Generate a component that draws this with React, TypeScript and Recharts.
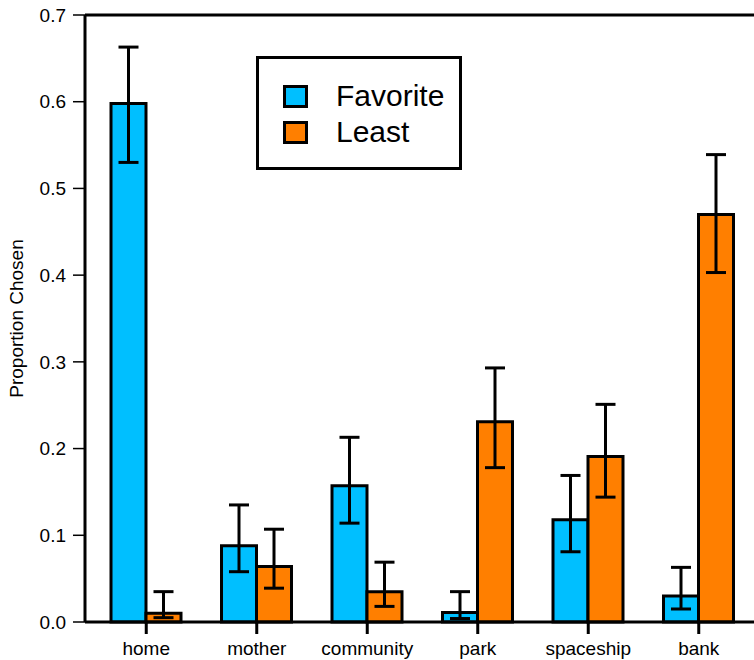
import React from 'react';
import { BarChart, Bar, XAxis, YAxis, ErrorBar, Legend, ReferenceLine } from 'recharts';

const categories = ['home', 'mother', 'community', 'park', 'spaceship', 'bank'];

const favorite = [0.598, 0.088, 0.157, 0.011, 0.118, 0.030];
const favoriteLow = [0.530, 0.058, 0.114, 0.004, 0.081, 0.015];
const favoriteHigh = [0.663, 0.135, 0.213, 0.035, 0.169, 0.063];

const least = [0.010, 0.064, 0.035, 0.231, 0.191, 0.470];
const leastLow = [0.005, 0.039, 0.018, 0.178, 0.144, 0.403];
const leastHigh = [0.035, 0.107, 0.069, 0.293, 0.251, 0.539];

const yTicks = [0, 0.1, 0.2, 0.3, 0.4, 0.5, 0.6, 0.7];

const BLUE = '#00BFFF';
const ORANGE = '#FF7F00';
const FONT = '"Liberation Sans", Arial, Helvetica, sans-serif';

const data = categories.map((cat, i) => ({
    cat,
    favorite: favorite[i],
    favoriteErr: [favorite[i] - favoriteLow[i], favoriteHigh[i] - favorite[i]],
    least: least[i],
    leastErr: [least[i] - leastLow[i], leastHigh[i] - least[i]],
}));

const LegendBox = () => (
    <div style={{
        width: 200, height: 108, border: '3px solid #000', background: '#fff',
        fontFamily: FONT, fontSize: 30, color: '#000', boxSizing: 'content-box',
    }}>
        {[['Favorite', BLUE], ['Least', ORANGE]].map(([name, color], i) => (
            <div key={name} style={{ position: 'absolute', left: 27, top: 25 + i * 36, display: 'flex', alignItems: 'center' }}>
                <span style={{ display: 'inline-block', width: 19, height: 17, border: '3px solid #000', background: color }} />
                <span style={{ marginLeft: 28, lineHeight: '30px' }}>{name}</span>
            </div>
        ))}
    </div>
);

const App: React.FC = () => {
    return (
        <div style={{ position: 'absolute', left: 0, top: 0, width: 754, height: 660, overflow: 'hidden', background: '#fff' }}>
            <BarChart
                width={775}
                height={660}
                data={data}
                margin={{ top: 15, right: 15, left: 0, bottom: 0 }}
                barGap={0}
                barSize={35}
            >
                <XAxis
                    dataKey="cat"
                    padding={{ left: 6, right: 6 }}
                    height={38}
                    tickSize={12}
                    tickMargin={8}
                    axisLine={{ stroke: '#000', strokeWidth: 3 }}
                    tickLine={{ stroke: '#000', strokeWidth: 3 }}
                    tick={{ fill: '#000', fontSize: 19, fontFamily: FONT }}
                    interval={0}
                />
                <YAxis
                    domain={[0, 0.7]}
                    ticks={yTicks}
                    width={85}
                    tickSize={12}
                    tickMargin={7}
                    tickFormatter={(v: number) => v.toFixed(1)}
                    axisLine={{ stroke: '#000', strokeWidth: 3 }}
                    tickLine={{ stroke: '#000', strokeWidth: 1.5 }}
                    tick={{ fill: '#000', fontSize: 19, fontFamily: FONT }}
                    label={{
                        value: 'Proportion Chosen', angle: -90, position: 'insideLeft', offset: 16,
                        style: { textAnchor: 'middle', fill: '#000', fontSize: 19, fontFamily: FONT },
                    }}
                />
                <ReferenceLine y={0.7} stroke="#000" strokeWidth={3} />
                <Bar dataKey="favorite" fill={BLUE} stroke="#000" strokeWidth={3} isAnimationActive={false}>
                    <ErrorBar dataKey="favoriteErr" width={10} stroke="#000" strokeWidth={3} />
                </Bar>
                <Bar dataKey="least" fill={ORANGE} stroke="#000" strokeWidth={3} isAnimationActive={false}>
                    <ErrorBar dataKey="leastErr" width={10} stroke="#000" strokeWidth={3} />
                </Bar>
                <Legend
                    layout="vertical"
                    align="center"
                    verticalAlign="middle"
                    wrapperStyle={{ top: 56, left: 256, width: 206, height: 114 }}
                    content={() => <LegendBox />}
                />
            </BarChart>
        </div>
    );
};

export default App;
